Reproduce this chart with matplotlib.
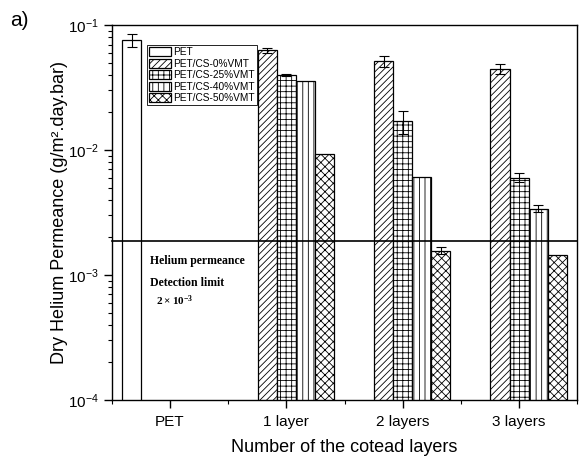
import numpy as np
import matplotlib
matplotlib.use("Agg")
import matplotlib.pyplot as plt
from matplotlib.ticker import LogLocator, FixedLocator, NullFormatter

plt.rcParams['font.family'] = ['Liberation Sans', 'DejaVu Sans']
plt.rcParams['hatch.linewidth'] = 0.6
plt.rcParams['mathtext.fontset'] = 'custom'
plt.rcParams['mathtext.rm'] = 'Liberation Sans'
plt.rcParams['mathtext.bf'] = 'Liberation Serif:bold'

# Data
groups = ["PET", "1 layer", "2 layers", "3 layers"]
series = ["PET", "PET/CS-0%VMT", "PET/CS-25%VMT", "PET/CS-40%VMT", "PET/CS-50%VMT"]
pet = [0.076, np.nan, np.nan, np.nan]
vmt0 = [np.nan, 0.063, 0.0515, 0.0445]
vmt25 = [np.nan, 0.040, 0.017, 0.0060]
vmt40 = [np.nan, 0.036, 0.0061, 0.0034]
vmt50 = [np.nan, 0.0093, 0.00156, 0.00145]
pet_err = [0.009, np.nan, np.nan, np.nan]
vmt0_err = [np.nan, 0.003, 0.005, 0.004]
vmt25_err = [np.nan, 0.0006, 0.0035, 0.0005]
vmt40_err = [np.nan, np.nan, np.nan, 0.0002]
vmt50_err = [np.nan, np.nan, 0.0001, np.nan]
detection_limit = 0.00187

values = [pet, vmt0, vmt25, vmt40, vmt50]
errors = [pet_err, vmt0_err, vmt25_err, vmt40_err, vmt50_err]
hatches = ["", "/////", "+++", "|||", "xxxx"]

fig = plt.figure(figsize=(5.79, 4.58), dpi=100)
ax = fig.add_axes([0.193, 0.127, 0.804, 0.818])

x = np.arange(1, len(groups) + 1)
w = 0.164
for i, (vals, errs, h, lab) in enumerate(zip(values, errors, hatches, series)):
    vals = np.array(vals, dtype=float)
    errs = np.array(errs, dtype=float)
    m = ~np.isnan(vals)
    pos = x[m] + (i - 2) * w
    ax.bar(pos, vals[m], width=w, facecolor="white", edgecolor="black",
           hatch=h, linewidth=0.9, label=lab, zorder=2)
    me = m & ~np.isnan(errs)
    if me.any():
        ax.errorbar(x[me] + (i - 2) * w, vals[me], yerr=errs[me], fmt="none",
                    ecolor="black", elinewidth=0.8, capsize=3.5, capthick=0.8, zorder=3)

ax.axhline(detection_limit, color="black", linewidth=1.2, zorder=4, clip_on=False)

ax.set_yscale("log")
ax.set_ylim(1e-4, 1e-1)
ax.set_xlim(0.5, 4.5)
ax.set_xticks(x)
ax.set_xticklabels(groups, fontsize=11.5)
ax.xaxis.set_minor_locator(FixedLocator([0.5, 1.5, 2.5, 3.5, 4.5]))
ax.yaxis.set_major_locator(LogLocator(base=10, numticks=10))
ax.yaxis.set_minor_locator(LogLocator(base=10, subs=np.arange(2, 10), numticks=10))
ax.yaxis.set_minor_formatter(NullFormatter())
ax.tick_params(axis="both", which="major", direction="out", length=6, width=1, labelsize=11)
ax.tick_params(axis="both", which="minor", direction="out", length=3, width=0.8)
ax.tick_params(axis="x", which="major", pad=5)

for s in ax.spines.values():
    s.set_linewidth(1.0)

ax.set_ylabel("Dry Helium Permeance (g/m².day.bar)", fontsize=13)
ax.yaxis.set_label_coords(-0.095, 0.5)
ax.set_xlabel("Number of the cotead layers", fontsize=13)
ax.xaxis.set_label_coords(0.5, -0.105)

ax.text(0.082, 0.371, "Helium permeance", transform=ax.transAxes, fontsize=8.5,
        fontweight="bold", family="Liberation Serif", va="center")
ax.text(0.082, 0.312, "Detection limit", transform=ax.transAxes, fontsize=8.5,
        fontweight="bold", family="Liberation Serif", va="center")
ax.text(0.095, 0.265, r"$\mathbf{2\times10^{-3}}$", transform=ax.transAxes, fontsize=8,
        va="center")

leg = ax.legend(loc="upper left", bbox_to_anchor=(0.075, 0.947), fontsize=7.3,
                frameon=True, fancybox=False, framealpha=1, edgecolor="black",
                handlelength=2.2, handleheight=1.0, labelspacing=0.15,
                handletextpad=0.25, borderpad=0.2, borderaxespad=0)
leg.get_frame().set_linewidth(0.6)

fig.text(0.017, 0.955, "a)", fontsize=15, va="center")

fig.savefig("out.png", dpi=100)
